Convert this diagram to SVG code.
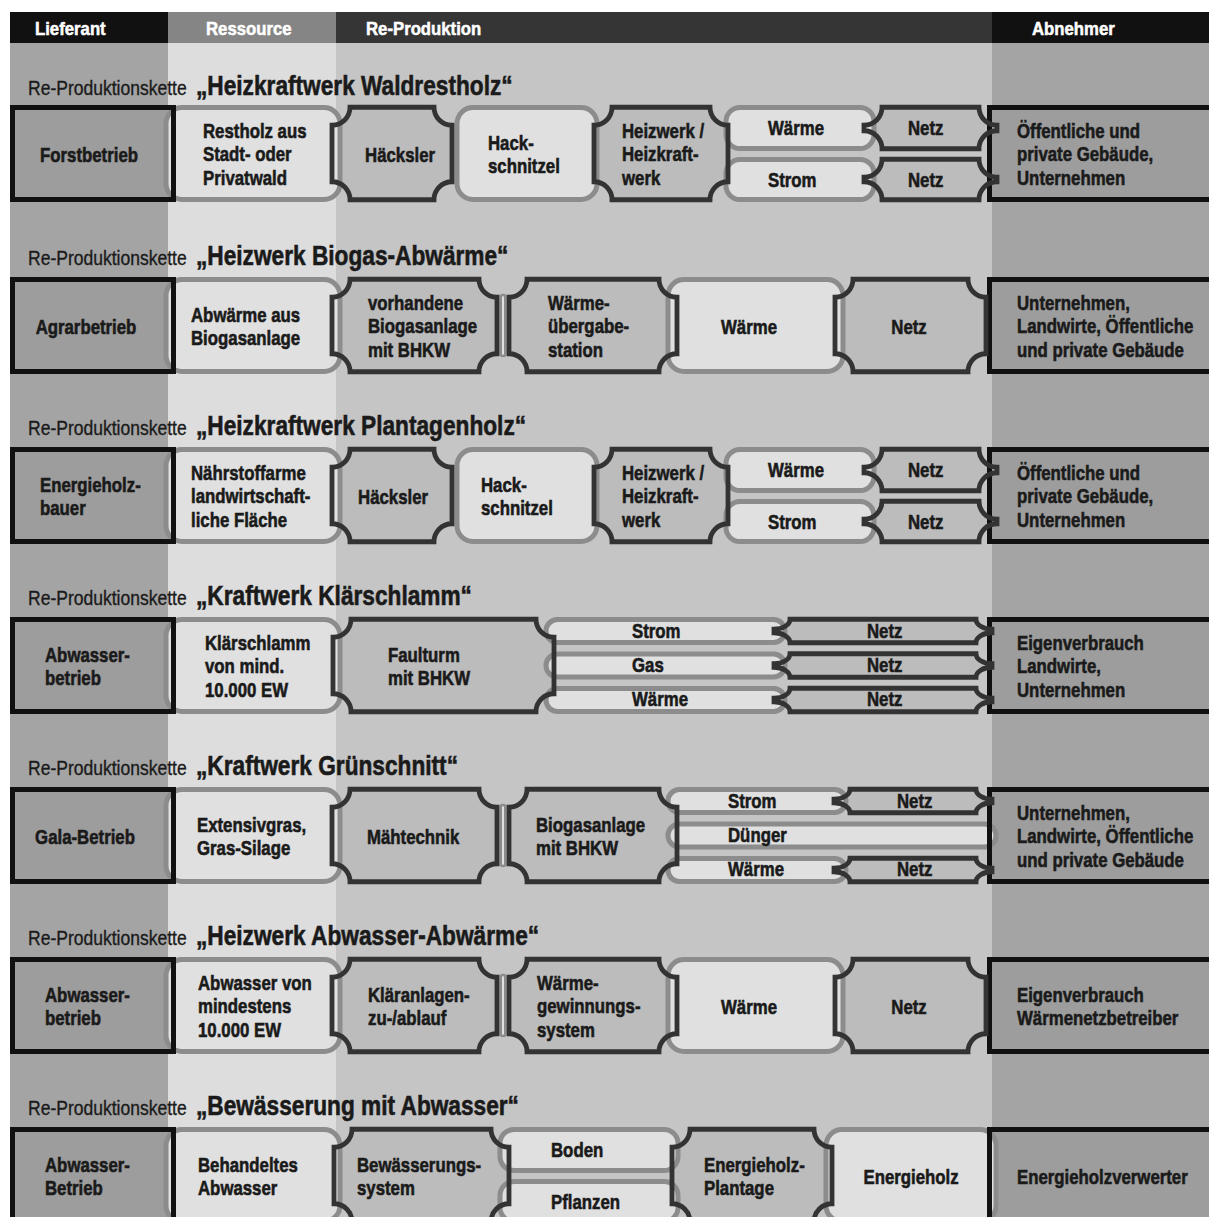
<svg xmlns="http://www.w3.org/2000/svg" width="1209" height="1217" viewBox="0 0 1209 1217">
<style>
.df{fill:#bcbcbc}
.ds{fill:none;stroke:#333;stroke-width:4.8}
.lt{fill:#e0e0e0;stroke:#8c8c8c;stroke-width:5}
.bf{fill:#9d9d9d}
.bs{fill:none;stroke:#111;stroke-width:5}
.bar{fill:#e0e0e0;stroke:#8c8c8c;stroke-width:2.5}
text{font-family:"Liberation Sans",Arial,sans-serif}
.t{font-weight:bold;font-size:21px;fill:#1a1a1a;stroke:#1a1a1a;stroke-width:.6}
.c{text-anchor:middle}
.h{font-weight:bold;font-size:18px;fill:#fff;stroke:#fff;stroke-width:.5}
.k1{font-size:21px;fill:#1a1a1a;stroke:#1a1a1a;stroke-width:.35}
.k2{font-weight:bold;font-size:28px;fill:#1a1a1a;stroke:#1a1a1a;stroke-width:.6}
</style>
<defs>
<path id="dH" d="M350,2.25H434A18 18 0 0 0 452,20.25V76.75A18 18 0 0 0 434,94.75H350A18 18 0 0 0 332,76.75V20.25A18 18 0 0 0 350,2.25Z"/>
<path id="dHW" d="M612,2.25H710A18 18 0 0 0 728,20.25V76.75A18 18 0 0 0 710,94.75H612A18 18 0 0 0 594,76.75V20.25A18 18 0 0 0 612,2.25Z"/>
<path id="dN1a" d="M882,2.25H979A18 18 0 0 0 997,20.25V25.75A18 18 0 0 0 979,43.75H882A18 18 0 0 0 864,25.75V20.25A18 18 0 0 0 882,2.25Z"/>
<path id="dN1b" d="M882,54.25H979A18 18 0 0 0 997,72.25V76.75A18 18 0 0 0 979,94.75H882A18 18 0 0 0 864,76.75V72.25A18 18 0 0 0 882,54.25Z"/>
<path id="dA" d="M350,2.25H479A18 18 0 0 0 497,20.25V76.75A18 18 0 0 0 479,94.75H350A18 18 0 0 0 332,76.75V20.25A18 18 0 0 0 350,2.25Z"/>
<path id="dB" d="M527,2.25H659A18 18 0 0 0 677,20.25V76.75A18 18 0 0 0 659,94.75H527A18 18 0 0 0 509,76.75V20.25A18 18 0 0 0 527,2.25Z"/>
<path id="dN2" d="M853,2.25H968A18 18 0 0 0 986,20.25V76.75A18 18 0 0 0 968,94.75H853A18 18 0 0 0 835,76.75V20.25A18 18 0 0 0 853,2.25Z"/>
<path id="dF" d="M351,2.25H536A18 18 0 0 0 554,20.25V76.75A18 18 0 0 0 536,94.75H351A18 18 0 0 0 333,76.75V20.25A18 18 0 0 0 351,2.25Z"/>
<path id="dN4a" d="M790,2.25H976A16 10 0 0 0 992,12.25V15.75A16 10 0 0 0 976,25.75H790A16 10 0 0 0 774,15.75V12.25A16 10 0 0 0 790,2.25Z"/>
<path id="dN4b" d="M790,36.75H976A16 10 0 0 0 992,46.75V50.25A16 10 0 0 0 976,60.25H790A16 10 0 0 0 774,50.25V46.75A16 10 0 0 0 790,36.75Z"/>
<path id="dN4c" d="M790,71.25H976A16 10 0 0 0 992,81.25V84.75A16 10 0 0 0 976,94.75H790A16 10 0 0 0 774,84.75V81.25A16 10 0 0 0 790,71.25Z"/>
<path id="dN5a" d="M850,2.25H976A16 10 0 0 0 992,12.25V15.75A16 10 0 0 0 976,25.75H850A16 10 0 0 0 834,15.75V12.25A16 10 0 0 0 850,2.25Z"/>
<path id="dN5c" d="M850,71.25H976A16 10 0 0 0 992,81.25V84.75A16 10 0 0 0 976,94.75H850A16 10 0 0 0 834,84.75V81.25A16 10 0 0 0 850,71.25Z"/>
<path id="dBw" d="M352,2.25H491A18 18 0 0 0 509,20.25V76.75A18 18 0 0 0 491,94.75H352A18 18 0 0 0 334,76.75V20.25A18 18 0 0 0 352,2.25Z"/>
<path id="dEP" d="M690,2.25H814A18 18 0 0 0 832,20.25V76.75A18 18 0 0 0 814,94.75H690A18 18 0 0 0 672,76.75V20.25A18 18 0 0 0 690,2.25Z"/>
</defs>
<g id="background">
<rect x="0" y="0" width="1209" height="1217" fill="#fff"/>
<rect x="10" y="12" width="158" height="1205" fill="#a4a4a4"/>
<rect x="168" y="12" width="168" height="1205" fill="#dddddd"/>
<rect x="336" y="12" width="656" height="1205" fill="#c5c5c5"/>
<rect x="992" y="12" width="217" height="1205" fill="#a4a4a4"/>
</g>
<g id="header">
<rect x="10" y="12" width="158" height="31" fill="#111"/>
<rect x="168" y="12" width="168" height="31" fill="#858585"/>
<rect x="336" y="12" width="656" height="31" fill="#353535"/>
<rect x="992" y="12" width="217" height="31" fill="#111"/>
<text class="h" transform="translate(35,35) scale(.93,1)">Lieferant</text>
<text class="h" transform="translate(206,35) scale(.93,1)">Ressource</text>
<text class="h" transform="translate(366,35) scale(.93,1)">Re-Produktion</text>
<text class="h" transform="translate(1032,35) scale(.93,1)">Abnehmer</text>
</g>

<g id="row1" transform="translate(0,105)">
<text class="k1" transform="translate(28,-10) scale(.835,1)">Re-Produktionskette</text>
<text class="k2" transform="translate(196,-10) scale(.81,1)">„Heizkraftwerk Waldrestholz“</text>
<g id="r1-lieferant"><rect class="bf" x="12.5" y="2.5" width="161" height="92"/><text class="t c" transform="translate(89,56.5) scale(.8,1)">Forstbetrieb</text></g>
<g id="r1-abnehmer"><rect class="bf" x="989.5" y="2.5" width="225" height="92"/><text class="t" transform="translate(1017,33) scale(.8,1)"><tspan x="0">Öffentliche und</tspan><tspan x="0" dy="23.5">private Gebäude,</tspan><tspan x="0" dy="23.5">Unternehmen</tspan></text></g>
<g id="r1-haecksler"><use class="df" href="#dH"/><text class="t c" transform="translate(400,56.5) scale(.8,1)">Häcksler</text></g>
<g id="r1-heizwerk"><use class="df" href="#dHW"/><text class="t" transform="translate(622,33) scale(.8,1)"><tspan x="0">Heizwerk /</tspan><tspan x="0" dy="23.5">Heizkraft-</tspan><tspan x="0" dy="23.5">werk</tspan></text></g>
<g id="r1-netz1"><use class="df" href="#dN1a"/><text class="t" transform="translate(908,30) scale(.8,1)">Netz</text></g>
<g id="r1-netz2"><use class="df" href="#dN1b"/><text class="t" transform="translate(908,81.5) scale(.8,1)">Netz</text></g>
<g id="r1-restholz"><rect class="lt" x="166" y="2.5" width="174" height="92" rx="16"/><text class="t" transform="translate(203,33) scale(.8,1)"><tspan x="0">Restholz aus</tspan><tspan x="0" dy="23.5">Stadt- oder</tspan><tspan x="0" dy="23.5">Privatwald</tspan></text></g>
<g id="r1-hackschnitzel"><rect class="lt" x="457" y="2.5" width="140" height="92" rx="16"/><text class="t" transform="translate(488,44.75) scale(.8,1)"><tspan x="0">Hack-</tspan><tspan x="0" dy="23.5">schnitzel</tspan></text></g>
<g id="r1-waerme"><rect class="lt" x="726" y="2.5" width="148" height="41" rx="14"/><text class="t" transform="translate(768,30) scale(.8,1)">Wärme</text></g>
<g id="r1-strom"><rect class="lt" x="726" y="54.5" width="148" height="40" rx="14"/><text class="t" transform="translate(768,81.5) scale(.8,1)">Strom</text></g>
<g id="r1-outlines"><rect class="bs" x="12.5" y="2.5" width="161" height="92"/><rect class="bs" x="989.5" y="2.5" width="225" height="92"/><use class="ds" href="#dH"/><use class="ds" href="#dHW"/><use class="ds" href="#dN1a"/><use class="ds" href="#dN1b"/></g>
</g>

<g id="row2" transform="translate(0,277)">
<text class="k1" transform="translate(28,-12) scale(.835,1)">Re-Produktionskette</text>
<text class="k2" transform="translate(196,-12) scale(.81,1)">„Heizwerk Biogas-Abwärme“</text>
<g id="r2-lieferant"><rect class="bf" x="12.5" y="2.5" width="161" height="92"/><text class="t c" transform="translate(86,56.5) scale(.8,1)">Agrarbetrieb</text></g>
<g id="r2-abnehmer"><rect class="bf" x="989.5" y="2.5" width="225" height="92"/><text class="t" transform="translate(1017,33) scale(.8,1)"><tspan x="0">Unternehmen,</tspan><tspan x="0" dy="23.5">Landwirte, Öffentliche</tspan><tspan x="0" dy="23.5">und private Gebäude</tspan></text></g>
<g id="r2-biogasanlage"><use class="df" href="#dA"/><text class="t" transform="translate(368,33) scale(.8,1)"><tspan x="0">vorhandene</tspan><tspan x="0" dy="23.5">Biogasanlage</tspan><tspan x="0" dy="23.5">mit BHKW</tspan></text></g>
<g id="r2-uebergabe"><use class="df" href="#dB"/><text class="t" transform="translate(548,33) scale(.8,1)"><tspan x="0">Wärme-</tspan><tspan x="0" dy="23.5">übergabe-</tspan><tspan x="0" dy="23.5">station</tspan></text></g>
<g id="r2-netz"><use class="df" href="#dN2"/><text class="t c" transform="translate(909,56.5) scale(.8,1)">Netz</text></g>
<g id="r2-abwaerme"><rect class="lt" x="166" y="2.5" width="174" height="92" rx="16"/><text class="t" transform="translate(191,44.75) scale(.8,1)"><tspan x="0">Abwärme aus</tspan><tspan x="0" dy="23.5">Biogasanlage</tspan></text></g>
<g id="r2-waerme"><rect class="lt" x="668" y="2.5" width="175" height="92" rx="16"/><text class="t c" transform="translate(749,56.5) scale(.8,1)">Wärme</text></g>
<rect class="bar" x="500.75" y="18" width="4.5" height="61" rx="2"/>
<g id="r2-outlines"><rect class="bs" x="12.5" y="2.5" width="161" height="92"/><rect class="bs" x="989.5" y="2.5" width="225" height="92"/><use class="ds" href="#dA"/><use class="ds" href="#dB"/><use class="ds" href="#dN2"/></g>
</g>

<g id="row3" transform="translate(0,447)">
<text class="k1" transform="translate(28,-12) scale(.835,1)">Re-Produktionskette</text>
<text class="k2" transform="translate(196,-12) scale(.81,1)">„Heizkraftwerk Plantagenholz“</text>
<g id="r3-lieferant"><rect class="bf" x="12.5" y="2.5" width="161" height="92"/><text class="t" transform="translate(40,44.75) scale(.8,1)"><tspan x="0">Energieholz-</tspan><tspan x="0" dy="23.5">bauer</tspan></text></g>
<g id="r3-abnehmer"><rect class="bf" x="989.5" y="2.5" width="225" height="92"/><text class="t" transform="translate(1017,33) scale(.8,1)"><tspan x="0">Öffentliche und</tspan><tspan x="0" dy="23.5">private Gebäude,</tspan><tspan x="0" dy="23.5">Unternehmen</tspan></text></g>
<g id="r3-haecksler"><use class="df" href="#dH"/><text class="t c" transform="translate(393,56.5) scale(.8,1)">Häcksler</text></g>
<g id="r3-heizwerk"><use class="df" href="#dHW"/><text class="t" transform="translate(622,33) scale(.8,1)"><tspan x="0">Heizwerk /</tspan><tspan x="0" dy="23.5">Heizkraft-</tspan><tspan x="0" dy="23.5">werk</tspan></text></g>
<g id="r3-netz1"><use class="df" href="#dN1a"/><text class="t" transform="translate(908,30) scale(.8,1)">Netz</text></g>
<g id="r3-netz2"><use class="df" href="#dN1b"/><text class="t" transform="translate(908,81.5) scale(.8,1)">Netz</text></g>
<g id="r3-flaeche"><rect class="lt" x="166" y="2.5" width="174" height="92" rx="16"/><text class="t" transform="translate(191,33) scale(.8,1)"><tspan x="0">Nährstoffarme</tspan><tspan x="0" dy="23.5">landwirtschaft-</tspan><tspan x="0" dy="23.5">liche Fläche</tspan></text></g>
<g id="r3-hackschnitzel"><rect class="lt" x="457" y="2.5" width="140" height="92" rx="16"/><text class="t" transform="translate(481,44.75) scale(.8,1)"><tspan x="0">Hack-</tspan><tspan x="0" dy="23.5">schnitzel</tspan></text></g>
<g id="r3-waerme"><rect class="lt" x="726" y="2.5" width="148" height="41" rx="14"/><text class="t" transform="translate(768,30) scale(.8,1)">Wärme</text></g>
<g id="r3-strom"><rect class="lt" x="726" y="54.5" width="148" height="40" rx="14"/><text class="t" transform="translate(768,81.5) scale(.8,1)">Strom</text></g>
<g id="r3-outlines"><rect class="bs" x="12.5" y="2.5" width="161" height="92"/><rect class="bs" x="989.5" y="2.5" width="225" height="92"/><use class="ds" href="#dH"/><use class="ds" href="#dHW"/><use class="ds" href="#dN1a"/><use class="ds" href="#dN1b"/></g>
</g>

<g id="row4" transform="translate(0,617)">
<text class="k1" transform="translate(28,-12) scale(.835,1)">Re-Produktionskette</text>
<text class="k2" transform="translate(196,-12) scale(.81,1)">„Kraftwerk Klärschlamm“</text>
<g id="r4-lieferant"><rect class="bf" x="12.5" y="2.5" width="161" height="92"/><text class="t" transform="translate(45,44.75) scale(.8,1)"><tspan x="0">Abwasser-</tspan><tspan x="0" dy="23.5">betrieb</tspan></text></g>
<g id="r4-abnehmer"><rect class="bf" x="989.5" y="2.5" width="225" height="92"/><text class="t" transform="translate(1017,33) scale(.8,1)"><tspan x="0">Eigenverbrauch</tspan><tspan x="0" dy="23.5">Landwirte,</tspan><tspan x="0" dy="23.5">Unternehmen</tspan></text></g>
<g id="r4-faulturm"><use class="df" href="#dF"/><text class="t" transform="translate(388,44.75) scale(.8,1)"><tspan x="0">Faulturm</tspan><tspan x="0" dy="23.5">mit BHKW</tspan></text></g>
<g id="r4-netz1"><use class="df" href="#dN4a"/><text class="t" transform="translate(867,20.5) scale(.8,1)">Netz</text></g>
<g id="r4-netz2"><use class="df" href="#dN4b"/><text class="t" transform="translate(867,54.5) scale(.8,1)">Netz</text></g>
<g id="r4-netz3"><use class="df" href="#dN4c"/><text class="t" transform="translate(867,88.5) scale(.8,1)">Netz</text></g>
<g id="r4-klaerschlamm"><rect class="lt" x="166" y="2.5" width="174" height="92" rx="16"/><text class="t" transform="translate(205,33) scale(.8,1)"><tspan x="0">Klärschlamm</tspan><tspan x="0" dy="23.5">von mind.</tspan><tspan x="0" dy="23.5">10.000 EW</tspan></text></g>
<g id="r4-strom"><rect class="lt" x="546" y="2.5" width="239" height="23" rx="11.5"/><text class="t" transform="translate(632,20.5) scale(.8,1)">Strom</text></g>
<g id="r4-gas"><rect class="lt" x="546" y="37" width="239" height="23" rx="11.5"/><text class="t" transform="translate(632,54.5) scale(.8,1)">Gas</text></g>
<g id="r4-waerme"><rect class="lt" x="546" y="71.5" width="239" height="23" rx="11.5"/><text class="t" transform="translate(632,88.5) scale(.8,1)">Wärme</text></g>
<g id="r4-outlines"><rect class="bs" x="12.5" y="2.5" width="161" height="92"/><rect class="bs" x="989.5" y="2.5" width="225" height="92"/><use class="ds" href="#dF"/><use class="ds" href="#dN4a"/><use class="ds" href="#dN4b"/><use class="ds" href="#dN4c"/></g>
</g>

<g id="row5" transform="translate(0,787)">
<text class="k1" transform="translate(28,-12) scale(.835,1)">Re-Produktionskette</text>
<text class="k2" transform="translate(196,-12) scale(.81,1)">„Kraftwerk Grünschnitt“</text>
<g id="r5-lieferant"><rect class="bf" x="12.5" y="2.5" width="161" height="92"/><text class="t c" transform="translate(85,56.5) scale(.8,1)">Gala-Betrieb</text></g>
<g id="r5-abnehmer"><rect class="bf" x="989.5" y="2.5" width="225" height="92"/><text class="t" transform="translate(1017,33) scale(.8,1)"><tspan x="0">Unternehmen,</tspan><tspan x="0" dy="23.5">Landwirte, Öffentliche</tspan><tspan x="0" dy="23.5">und private Gebäude</tspan></text></g>
<g id="r5-maehtechnik"><use class="df" href="#dA"/><text class="t" transform="translate(367,56.5) scale(.8,1)">Mähtechnik</text></g>
<g id="r5-biogasanlage"><use class="df" href="#dB"/><text class="t" transform="translate(536,44.75) scale(.8,1)"><tspan x="0">Biogasanlage</tspan><tspan x="0" dy="23.5">mit BHKW</tspan></text></g>
<g id="r5-netz1"><use class="df" href="#dN5a"/><text class="t" transform="translate(897,20.5) scale(.8,1)">Netz</text></g>
<g id="r5-netz2"><use class="df" href="#dN5c"/><text class="t" transform="translate(897,88.5) scale(.8,1)">Netz</text></g>
<g id="r5-gras"><rect class="lt" x="166" y="2.5" width="174" height="92" rx="16"/><text class="t" transform="translate(197,44.75) scale(.8,1)"><tspan x="0">Extensivgras,</tspan><tspan x="0" dy="23.5">Gras-Silage</tspan></text></g>
<g id="r5-strom"><rect class="lt" x="668" y="2.5" width="178" height="23" rx="11.5"/><text class="t" transform="translate(728,20.5) scale(.8,1)">Strom</text></g>
<g id="r5-duenger"><rect class="lt" x="668" y="37" width="328" height="23" rx="11.5"/><text class="t" transform="translate(728,54.5) scale(.8,1)">Dünger</text></g>
<g id="r5-waerme"><rect class="lt" x="668" y="71.5" width="178" height="23" rx="11.5"/><text class="t" transform="translate(728,88.5) scale(.8,1)">Wärme</text></g>
<rect class="bar" x="500.75" y="18" width="4.5" height="61" rx="2"/>
<g id="r5-outlines"><rect class="bs" x="12.5" y="2.5" width="161" height="92"/><rect class="bs" x="989.5" y="2.5" width="225" height="92"/><use class="ds" href="#dA"/><use class="ds" href="#dB"/><use class="ds" href="#dN5a"/><use class="ds" href="#dN5c"/></g>
</g>

<g id="row6" transform="translate(0,957)">
<text class="k1" transform="translate(28,-12) scale(.835,1)">Re-Produktionskette</text>
<text class="k2" transform="translate(196,-12) scale(.81,1)">„Heizwerk Abwasser-Abwärme“</text>
<g id="r6-lieferant"><rect class="bf" x="12.5" y="2.5" width="161" height="92"/><text class="t" transform="translate(45,44.75) scale(.8,1)"><tspan x="0">Abwasser-</tspan><tspan x="0" dy="23.5">betrieb</tspan></text></g>
<g id="r6-abnehmer"><rect class="bf" x="989.5" y="2.5" width="225" height="92"/><text class="t" transform="translate(1017,44.75) scale(.8,1)"><tspan x="0">Eigenverbrauch</tspan><tspan x="0" dy="23.5">Wärmenetzbetreiber</tspan></text></g>
<g id="r6-klaeranlage"><use class="df" href="#dA"/><text class="t" transform="translate(368,44.75) scale(.8,1)"><tspan x="0">Kläranlagen-</tspan><tspan x="0" dy="23.5">zu-/ablauf</tspan></text></g>
<g id="r6-waermegewinnung"><use class="df" href="#dB"/><text class="t" transform="translate(537,33) scale(.8,1)"><tspan x="0">Wärme-</tspan><tspan x="0" dy="23.5">gewinnungs-</tspan><tspan x="0" dy="23.5">system</tspan></text></g>
<g id="r6-netz"><use class="df" href="#dN2"/><text class="t c" transform="translate(909,56.5) scale(.8,1)">Netz</text></g>
<g id="r6-abwasser"><rect class="lt" x="166" y="2.5" width="174" height="92" rx="16"/><text class="t" transform="translate(198,33) scale(.8,1)"><tspan x="0">Abwasser von</tspan><tspan x="0" dy="23.5">mindestens</tspan><tspan x="0" dy="23.5">10.000 EW</tspan></text></g>
<g id="r6-waerme"><rect class="lt" x="668" y="2.5" width="175" height="92" rx="16"/><text class="t c" transform="translate(749,56.5) scale(.8,1)">Wärme</text></g>
<rect class="bar" x="500.75" y="18" width="4.5" height="61" rx="2"/>
<g id="r6-outlines"><rect class="bs" x="12.5" y="2.5" width="161" height="92"/><rect class="bs" x="989.5" y="2.5" width="225" height="92"/><use class="ds" href="#dA"/><use class="ds" href="#dB"/><use class="ds" href="#dN2"/></g>
</g>

<g id="row7" transform="translate(0,1127)">
<text class="k1" transform="translate(28,-12) scale(.835,1)">Re-Produktionskette</text>
<text class="k2" transform="translate(196,-12) scale(.81,1)">„Bewässerung mit Abwasser“</text>
<g id="r7-lieferant"><rect class="bf" x="12.5" y="2.5" width="161" height="92"/><text class="t" transform="translate(45,44.75) scale(.8,1)"><tspan x="0">Abwasser-</tspan><tspan x="0" dy="23.5">Betrieb</tspan></text></g>
<g id="r7-abnehmer"><rect class="bf" x="989.5" y="2.5" width="225" height="92"/><text class="t" transform="translate(1017,56.5) scale(.8,1)">Energieholzverwerter</text></g>
<g id="r7-bewaesserung"><use class="df" href="#dBw"/><text class="t" transform="translate(357,44.75) scale(.8,1)"><tspan x="0">Bewässerungs-</tspan><tspan x="0" dy="23.5">system</tspan></text></g>
<g id="r7-plantage"><use class="df" href="#dEP"/><text class="t" transform="translate(704,44.75) scale(.8,1)"><tspan x="0">Energieholz-</tspan><tspan x="0" dy="23.5">Plantage</tspan></text></g>
<g id="r7-behandelt"><rect class="lt" x="166" y="2.5" width="174" height="92" rx="16"/><text class="t" transform="translate(198,44.75) scale(.8,1)"><tspan x="0">Behandeltes</tspan><tspan x="0" dy="23.5">Abwasser</tspan></text></g>
<g id="r7-boden"><rect class="lt" x="500" y="2.5" width="178" height="41" rx="14"/><text class="t" transform="translate(551,30) scale(.8,1)">Boden</text></g>
<g id="r7-pflanzen"><rect class="lt" x="500" y="54.5" width="178" height="40" rx="14"/><text class="t" transform="translate(551,81.5) scale(.8,1)">Pflanzen</text></g>
<g id="r7-energieholz"><rect class="lt" x="826" y="2.5" width="170" height="92" rx="16"/><text class="t c" transform="translate(911,56.5) scale(.8,1)">Energieholz</text></g>
<g id="r7-outlines"><rect class="bs" x="12.5" y="2.5" width="161" height="92"/><rect class="bs" x="989.5" y="2.5" width="225" height="92"/><use class="ds" href="#dBw"/><use class="ds" href="#dEP"/></g>
</g>
<g id="connectors"/>
</svg>
